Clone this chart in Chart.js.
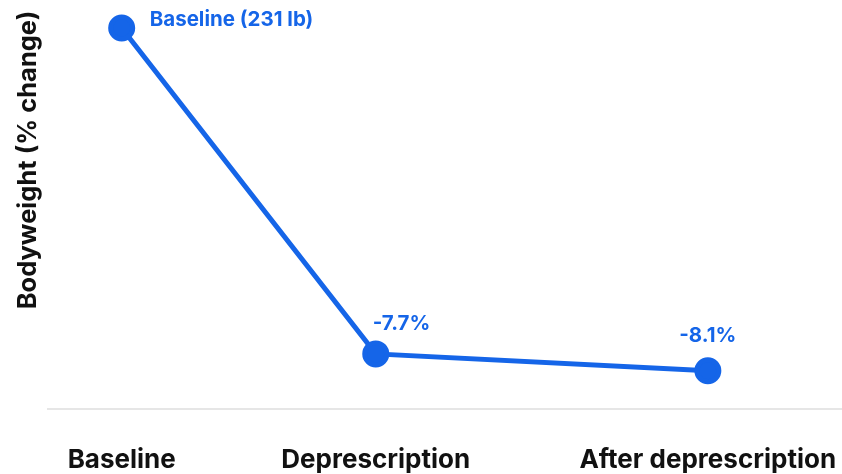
<!DOCTYPE html>
<html>
<head>
<meta charset="utf-8">
<script src="https://cdn.jsdelivr.net/npm/chart.js@4.4.0/dist/chart.umd.min.js"></script>
<style>
  html, body { margin: 0; padding: 0; background: #fff; }
  #wrap { width: 842px; height: 474px; }
</style>
</head>
<body>
<div id="wrap"><canvas id="chart"></canvas></div>
<script>
const categories = ['Baseline', 'Deprescription', 'After deprescription'];
// position of each stage along the timeline (uneven spacing as in the figure)
const timeline = [0, 1, 2.307];
const weightChange = [0, -7.7, -8.1];
const pointLabels = ['Baseline (231 lb)', '-7.7%', '-8.1%'];

const BLUE = '#1565e8';

const valueLabels = {
  id: 'valueLabels',
  afterDatasetsDraw(chart) {
    const ctx = chart.ctx;
    const meta = chart.getDatasetMeta(0);
    ctx.save();
    ctx.fillStyle = BLUE;
    ctx.font = 'bold 20.5px Inter';
    ctx.textBaseline = 'middle';
    meta.data.forEach((pt, i) => {
      if (i === 0) {
        ctx.textAlign = 'left';
        ctx.fillText(pointLabels[i], pt.x + 28, pt.y - 8);
      } else if (i === 1) {
        ctx.textAlign = 'left';
        ctx.fillText(pointLabels[i], pt.x - 3, pt.y - 30);
      } else {
        ctx.textAlign = 'center';
        ctx.fillText(pointLabels[i], pt.x, pt.y - 35);
      }
    });
    ctx.restore();
  }
};

const yTitle = {
  id: 'yTitle',
  afterDraw(chart) {
    const ctx = chart.ctx;
    ctx.save();
    ctx.translate(28, 160);
    ctx.rotate(-Math.PI / 2);
    ctx.fillStyle = '#111';
    ctx.font = 'bold 25.5px Inter';
    ctx.textAlign = 'center';
    ctx.textBaseline = 'middle';
    ctx.fillText('Bodyweight (% change)', 0, 0);
    ctx.restore();
  }
};

new Chart(document.getElementById('chart'), {
  type: 'line',
  data: {
    datasets: [{
      data: timeline.map((t, i) => ({ x: t, y: weightChange[i] })),
      borderColor: BLUE,
      backgroundColor: BLUE,
      borderWidth: 5,
      pointRadius: 11,
      pointHoverRadius: 11,
      tension: 0,
      clip: false
    }]
  },
  options: {
    responsive: true,
    maintainAspectRatio: false,
    animation: false,
    layout: { autoPadding: false, padding: { left: 48, top: 28, right: 0, bottom: 0 } },
    plugins: {
      legend: { display: false },
      tooltip: { enabled: false }
    },
    scales: {
      x: {
        type: 'linear',
        min: -0.29,
        max: 2.835,
        grid: {
          display: true,
          drawOnChartArea: false,
          drawTicks: true,
          tickLength: 37,
          tickColor: 'rgba(0,0,0,0)'
        },
        border: { display: true, color: '#e6e6e6', width: 2 },
        afterBuildTicks(axis) {
          axis.ticks = timeline.map(v => ({ value: v }));
        },
        afterFit(axis) {
          // let the long last label overhang instead of shrinking the plot
          axis.paddingLeft = 0;
          axis.paddingRight = 0;
        },
        ticks: {
          autoSkip: false,
          maxRotation: 0,
          padding: 3,
          color: '#111',
          font: { family: 'Inter', size: 26, weight: 'bold', lineHeight: 0.85 },
          callback(value) {
            const i = timeline.indexOf(value);
            return i >= 0 ? categories[i] : '';
          }
        }
      },
      y: {
        display: false,
        min: -9,
        max: 0
      }
    }
  },
  plugins: [valueLabels, yTitle]
});
</script>
</body>
</html>
